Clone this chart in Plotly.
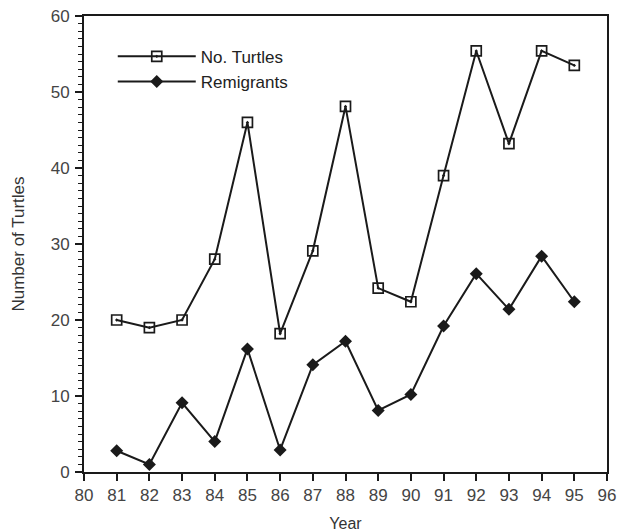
import plotly.graph_objects as go

years = [81, 82, 83, 84, 85, 86, 87, 88, 89, 90, 91, 92, 93, 94, 95]
no_turtles = [20, 19, 20, 28, 46, 18.2, 29.1, 48.1, 24.2, 22.4, 39, 55.4, 43.2, 55.4, 53.5]
remigrants = [2.8, 1, 9.1, 4, 16.2, 2.9, 14.1, 17.2, 8.1, 10.2, 19.2, 26.1, 21.4, 28.4, 22.4]
x_ticks = list(range(80, 97))
y_ticks = [0, 10, 20, 30, 40, 50, 60]

fig = go.Figure()
fig.add_trace(go.Scatter(
    x=years, y=no_turtles, name="No. Turtles", mode="lines+markers",
    line=dict(color="#1a1a1a", width=2),
    marker=dict(symbol="square-open-dot", size=10, color="#1a1a1a", line=dict(width=1.7)),
))
fig.add_trace(go.Scatter(
    x=years, y=remigrants, name="Remigrants", mode="lines+markers",
    line=dict(color="#1a1a1a", width=2),
    marker=dict(symbol="diamond", size=10, color="#1a1a1a"),
))

font = "Liberation Sans, Arial, Helvetica, sans-serif"
fig.update_layout(
    width=618, height=532,
    margin=dict(l=84, r=11, t=16, b=60),
    plot_bgcolor="white", paper_bgcolor="white",
    font=dict(family=font, size=16, color="#333333"),
    showlegend=True,
    legend=dict(x=0.055, y=0.95, xanchor="left", yanchor="top",
                bgcolor="rgba(0,0,0,0)", font=dict(size=17, color="#222222"),
                tracegroupgap=0, itemwidth=78),
)
fig.update_xaxes(
    range=[80, 96], tickvals=x_ticks, ticktext=[str(v) for v in x_ticks],
    showgrid=False, zeroline=False, showline=True, linecolor="#1a1a1a", linewidth=2,
    mirror=True, ticks="outside", ticklen=7, tickwidth=1.5, tickcolor="#1a1a1a",
    tickfont=dict(size=17, color="#444444"), automargin=False,
    title=dict(text="Year", font=dict(size=16, color="#333333"), standoff=14),
)
fig.update_yaxes(
    range=[0, 60], tickvals=y_ticks, ticktext=[str(v) for v in y_ticks],
    showgrid=False, zeroline=False, showline=True, linecolor="#1a1a1a", linewidth=2,
    mirror=True, ticks="outside", ticklen=7, tickwidth=1.5, tickcolor="#1a1a1a",
    tickfont=dict(size=17, color="#444444"), automargin=False, ticklabelstandoff=2,
    minor=dict(dtick=1, ticks="outside", ticklen=4, tickwidth=1, tickcolor="#1a1a1a", showgrid=False),
    title=dict(text="Number of Turtles", font=dict(size=17, color="#333333"), standoff=22),
)
fig.write_html("out.html", config={"displayModeBar": False},
               post_script="document.body.style.margin='0';")
